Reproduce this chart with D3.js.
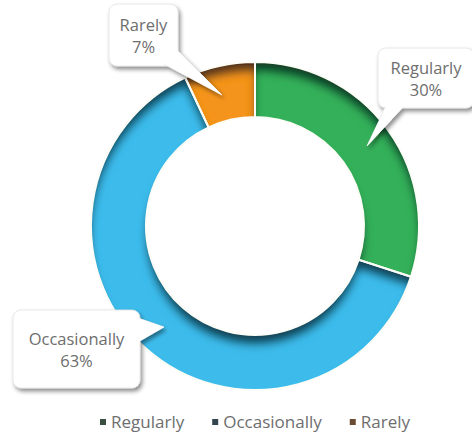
<!DOCTYPE html>
<html>
<head>
<meta charset="utf-8">
<script src="https://cdn.jsdelivr.net/npm/d3@7"></script>
<style>
  html, body { margin: 0; padding: 0; background: #fff; }
  svg { display: block; }
  text { font-family: "Open Sans", "DejaVu Sans", sans-serif; }
</style>
</head>
<body>
<svg id="chart" width="472" height="436"></svg>
<script>
// Survey shares
const categories = ["Regularly", "Occasionally", "Rarely"];
const values = [30, 63, 7];
const colors = ["#36b05a", "#3dbcec", "#f5941e"];
const legendColors = ["#3b4f41", "#34454f", "#6b4b31"];

const W = 472, H = 436;
const cx = 255, cy = 226;
const rOuter = 164, rInner = 109;

const svg = d3.select("#chart");
const defs = svg.append("defs");

// inner shadow for ring segments
const inner = defs.append("filter").attr("id", "innerShadow")
  .attr("x", "-10%").attr("y", "-10%").attr("width", "120%").attr("height", "120%");
inner.append("feGaussianBlur").attr("in", "SourceAlpha").attr("stdDeviation", 4.5).attr("result", "blur");
inner.append("feOffset").attr("in", "blur").attr("dx", 0).attr("dy", 10).attr("result", "off");
inner.append("feComposite").attr("in", "SourceAlpha").attr("in2", "off").attr("operator", "out").attr("result", "mask");
inner.append("feFlood").attr("flood-color", "#081820").attr("flood-opacity", 0.9).attr("result", "col");
inner.append("feComposite").attr("in", "col").attr("in2", "mask").attr("operator", "in").attr("result", "shadow");
const im = inner.append("feMerge");
im.append("feMergeNode").attr("in", "SourceGraphic");
im.append("feMergeNode").attr("in", "shadow");

// drop shadow for callouts
const drop = defs.append("filter").attr("id", "dropShadow")
  .attr("x", "-20%").attr("y", "-20%").attr("width", "140%").attr("height", "150%");
drop.append("feGaussianBlur").attr("in", "SourceAlpha").attr("stdDeviation", 2.2).attr("result", "b");
drop.append("feOffset").attr("in", "b").attr("dx", 2).attr("dy", 3).attr("result", "o");
drop.append("feFlood").attr("flood-color", "#000").attr("flood-opacity", 0.45).attr("result", "c");
drop.append("feComposite").attr("in", "c").attr("in2", "o").attr("operator", "in").attr("result", "s");
const dm = drop.append("feMerge");
dm.append("feMergeNode").attr("in", "s");
dm.append("feMergeNode").attr("in", "SourceGraphic");

// donut
const pie = d3.pie().sort(null).value(d => d).startAngle(0).endAngle(2 * Math.PI);
const arcs = pie(values);
const arc = d3.arc().innerRadius(rInner).outerRadius(rOuter);

const ring = svg.append("g").attr("transform", `translate(${cx},${cy})`);
ring.selectAll("path.slice")
  .data(arcs)
  .join("path")
  .attr("class", "slice")
  .attr("d", arc)
  .attr("fill", (d, i) => colors[i])
  .attr("filter", "url(#innerShadow)");
ring.selectAll("path.sep")
  .data(arcs)
  .join("path")
  .attr("class", "sep")
  .attr("d", arc)
  .attr("fill", "none")
  .attr("stroke", "#fbfdf6")
  .attr("stroke-width", 2);

// callouts: box rectangle and wedge tip for each category
const total = d3.sum(values);
const callouts = [
  { box: [378, 48, 96, 60], base: [[386, 106], [404, 106]], tip: [367, 146] },
  { box: [13, 310, 127, 78], base: [[138, 318], [138, 342]], tip: [164, 327] },
  { box: [109, 4, 69, 62], base: [[164, 64], [177, 50]], tip: [222, 95] }
];

const lab = svg.append("g");
callouts.forEach((c, i) => {
  const g = lab.append("g").attr("filter", "url(#dropShadow)");
  const [x, y, w, h] = c.box;
  g.append("rect").attr("x", x).attr("y", y).attr("width", w).attr("height", h)
    .attr("rx", 8).attr("fill", "#fff").attr("stroke", "#e2e2e2").attr("stroke-width", 0.8);
  g.append("path")
    .attr("d", d3.line()([c.base[0], c.tip, c.base[1]]))
    .attr("fill", "#fff").attr("stroke", "#e2e2e2").attr("stroke-width", 0.8);
  // cover the wedge seam on the box edge
  g.append("path")
    .attr("d", d3.line()([c.base[0], c.tip, c.base[1]]) + "Z")
    .attr("fill", "#fff");
  const tx = x + w / 2, ty = y + h / 2;
  const t = lab.append("text").attr("text-anchor", "middle")
    .attr("fill", "#6e6e6e").attr("font-size", 16.5);
  t.append("tspan").attr("x", tx).attr("y", ty - 4).text(categories[i]);
  t.append("tspan").attr("x", tx).attr("y", ty + 18)
    .text(Math.round(values[i] / total * 100) + "%");
});

// legend
const legend = svg.append("g");
const items = legend.selectAll("g").data(categories).join("g");
items.append("rect").attr("width", 6).attr("height", 6).attr("y", -9)
  .attr("fill", (d, i) => legendColors[i]);
items.append("text").attr("x", 11).attr("y", 0)
  .attr("font-size", 17).attr("fill", "#6e6e6e").text(d => d);
let lx = 0;
const gap = 28;
items.each(function () {
  const w = 11 + d3.select(this).select("text").node().getComputedTextLength();
  d3.select(this).attr("transform", `translate(${lx},428)`);
  lx += w + gap;
});
legend.attr("transform", "translate(100,0)");
</script>
</body>
</html>
